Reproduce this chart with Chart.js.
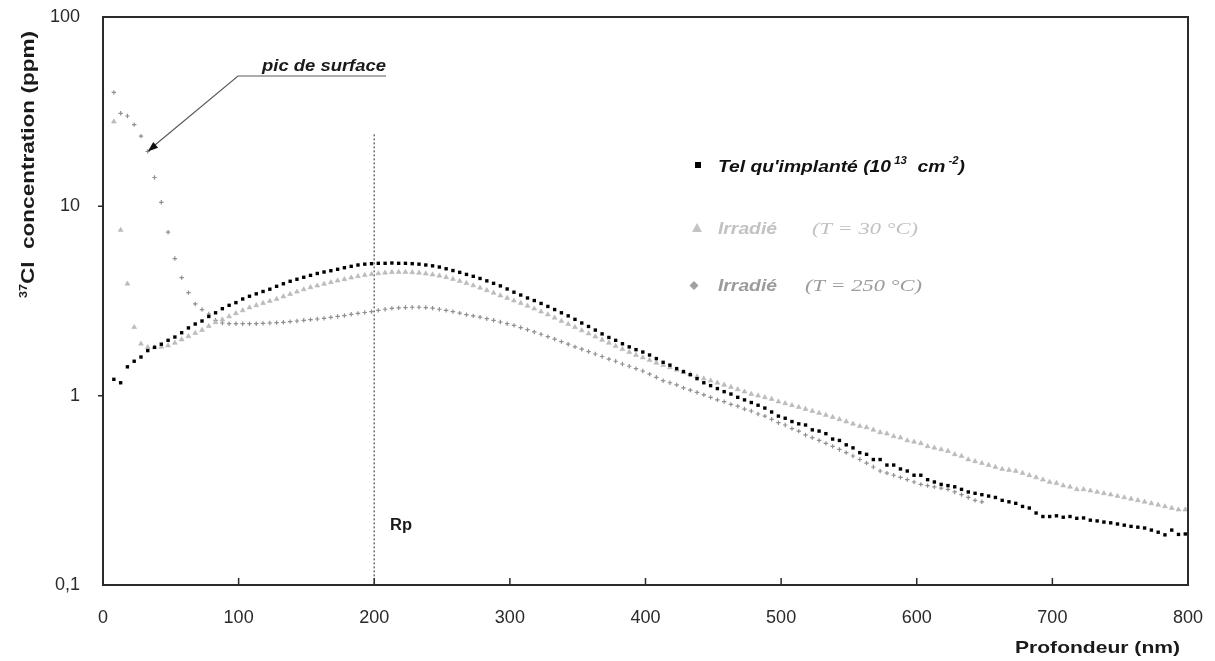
<!DOCTYPE html>
<html>
<head>
<meta charset="utf-8">
<script src="https://cdn.jsdelivr.net/npm/chart.js@4.4.1/dist/chart.umd.min.js"></script>
<style>
  html, body { margin: 0; padding: 0; background: #fff; }
  #wrap { width: 1215px; height: 661px; }
</style>
</head>
<body>
<div id="wrap"><canvas id="chart" width="1215" height="661"></canvas></div>
<script>
// profondeur (nm), one point every ~5 nm
const depth = [
  8, 13, 18, 23, 28, 33, 38, 43, 48, 53, 58, 63, 68, 73, 78, 83, 88, 93, 98, 103,
  108, 113, 118, 123, 128, 133, 138, 143, 148, 153, 158, 163, 168, 173, 178, 183, 188, 193, 198, 203,
  208, 213, 218, 223, 228, 233, 238, 243, 248, 253, 258, 263, 268, 273, 278, 283, 288, 293, 298, 303,
  308, 313, 318, 323, 328, 333, 338, 343, 348, 353, 358, 363, 368, 373, 378, 383, 388, 393, 398, 403,
  408, 413, 418, 423, 428, 433, 438, 443, 448, 453, 458, 463, 468, 473, 478, 483, 488, 493, 498, 503,
  508, 513, 518, 523, 528, 533, 538, 543, 548, 553, 558, 563, 568, 573, 578, 583, 588, 593, 598, 603,
  608, 613, 618, 623, 628, 633, 638, 643, 648, 653, 658, 663, 668, 673, 678, 683, 688, 693, 698, 703,
  708, 713, 718, 723, 728, 733, 738, 743, 748, 753, 758, 763, 768, 773, 778, 783, 788, 793, 798
];

// Tel qu'implanté (ppm)
const telQuImplante = [
  1.22, 1.17, 1.42, 1.52, 1.60, 1.73, 1.80, 1.87, 1.96, 2.04, 2.15, 2.28, 2.39, 2.48, 2.62, 2.74, 2.88, 3.00, 3.10, 3.24,
  3.35, 3.45, 3.55, 3.65, 3.78, 3.90, 4.02, 4.12, 4.22, 4.32, 4.42, 4.50, 4.57, 4.65, 4.74, 4.82, 4.90, 4.95, 4.98, 5.00,
  5.00, 5.02, 5.00, 5.00, 4.98, 4.95, 4.90, 4.85, 4.78, 4.68, 4.58, 4.48, 4.37, 4.27, 4.16, 4.04, 3.92, 3.80, 3.66, 3.52,
  3.40, 3.28, 3.18, 3.07, 2.96, 2.85, 2.74, 2.64, 2.53, 2.42, 2.32, 2.22, 2.12, 2.03, 1.96, 1.88, 1.81, 1.75, 1.70, 1.64,
  1.57, 1.50, 1.45, 1.39, 1.34, 1.29, 1.23, 1.17, 1.13, 1.09, 1.05, 1.02, 0.98, 0.95, 0.92, 0.89, 0.86, 0.82, 0.78, 0.76,
  0.73, 0.71, 0.70, 0.66, 0.65, 0.63, 0.59, 0.58, 0.55, 0.53, 0.50, 0.49, 0.46, 0.46, 0.43, 0.43, 0.41, 0.40, 0.38, 0.38,
  0.36, 0.35, 0.34, 0.335, 0.33, 0.32, 0.31, 0.305, 0.30, 0.295, 0.29, 0.28, 0.275, 0.27, 0.26, 0.255, 0.24, 0.23, 0.23, 0.232,
  0.228, 0.23, 0.225, 0.226, 0.22, 0.218, 0.215, 0.213, 0.21, 0.207, 0.204, 0.202, 0.20, 0.195, 0.19, 0.184, 0.195, 0.185, 0.186
];

// Irradié T = 30 °C (ppm)
const irradie30 = [
  28, 7.5, 3.9, 2.3, 1.88, 1.80, 1.80, 1.81, 1.84, 1.90, 1.98, 2.06, 2.14, 2.22, 2.33, 2.44, 2.52, 2.62, 2.72, 2.82,
  2.92, 3.00, 3.08, 3.16, 3.24, 3.34, 3.44, 3.54, 3.64, 3.73, 3.81, 3.89, 3.97, 4.05, 4.12, 4.20, 4.27, 4.33, 4.38, 4.42,
  4.46, 4.49, 4.50, 4.50, 4.48, 4.45, 4.41, 4.36, 4.30, 4.22, 4.13, 4.03, 3.93, 3.82, 3.71, 3.60, 3.49, 3.38, 3.28, 3.18,
  3.08, 2.98, 2.88, 2.78, 2.68, 2.58, 2.48, 2.39, 2.30, 2.21, 2.13, 2.05, 1.97, 1.90, 1.83, 1.76, 1.70, 1.64, 1.59, 1.54,
  1.49, 1.45, 1.41, 1.37, 1.33, 1.30, 1.26, 1.23, 1.20, 1.17, 1.14, 1.11, 1.08, 1.05, 1.02, 1.00, 0.98, 0.96, 0.93, 0.91,
  0.89, 0.87, 0.85, 0.83, 0.81, 0.79, 0.77, 0.75, 0.73, 0.71, 0.69, 0.68, 0.66, 0.64, 0.63, 0.61, 0.60, 0.58, 0.57, 0.56,
  0.54, 0.53, 0.52, 0.51, 0.49, 0.48, 0.46, 0.45, 0.44, 0.43, 0.42, 0.41, 0.405, 0.40, 0.39, 0.38, 0.37, 0.36, 0.35, 0.345,
  0.335, 0.33, 0.32, 0.32, 0.315, 0.31, 0.305, 0.30, 0.295, 0.29, 0.285, 0.28, 0.275, 0.27, 0.265, 0.26, 0.255, 0.25, 0.25
];

// Irradié T = 250 °C (ppm), no points past ~650 nm
const irradie250 = [
  40, 31, 30, 27, 23.5, 19.5, 14.2, 10.5, 7.3, 5.3, 4.2, 3.5, 3.05, 2.85, 2.70, 2.50, 2.42, 2.40, 2.40, 2.40,
  2.40, 2.40, 2.41, 2.42, 2.43, 2.44, 2.46, 2.48, 2.50, 2.52, 2.54, 2.56, 2.59, 2.62, 2.65, 2.69, 2.72, 2.75, 2.78, 2.82,
  2.86, 2.89, 2.91, 2.92, 2.93, 2.93, 2.92, 2.90, 2.86, 2.82, 2.78, 2.73, 2.68, 2.64, 2.60, 2.55, 2.50, 2.45, 2.40, 2.35,
  2.29, 2.23, 2.17, 2.11, 2.05, 1.99, 1.93, 1.87, 1.81, 1.76, 1.71, 1.66, 1.61, 1.56, 1.52, 1.47, 1.43, 1.39, 1.35, 1.30,
  1.25, 1.20, 1.17, 1.14, 1.10, 1.07, 1.04, 1.01, 0.98, 0.95, 0.93, 0.90, 0.88, 0.85, 0.83, 0.80, 0.78, 0.75, 0.72, 0.70,
  0.67, 0.65, 0.62, 0.60, 0.58, 0.56, 0.54, 0.52, 0.50, 0.48, 0.46, 0.44, 0.42, 0.40, 0.39, 0.38, 0.37, 0.36, 0.35, 0.34,
  0.335, 0.33, 0.325, 0.32, 0.31, 0.30, 0.29, 0.28, 0.275
];

const xTicks = [0, 100, 200, 300, 400, 500, 600, 700, 800];
const yTicks = [0.1, 1, 10, 100];
const rpDepth = 200;

const FONT = "'Liberation Sans', Arial, sans-serif";

function points(values) {
  const out = [];
  values.forEach((v, i) => {
    if (v != null) out.push({ x: depth[i], y: v });
  });
  return out;
}

// draws a text squeezed/stretched to a given width (the scan is a bit anamorphic)
function drawFitted(ctx, text, x, y, width, font, color) {
  ctx.save();
  ctx.font = font;
  ctx.fillStyle = color;
  ctx.textBaseline = "alphabetic";
  const w = ctx.measureText(text).width;
  ctx.translate(x, y);
  ctx.scale(width / w, 1);
  ctx.fillText(text, 0, 0);
  ctx.restore();
}

// several pieces in a row (for superscripts), whole group fitted to a width
function drawPieces(ctx, pieces, x, y, width, color) {
  ctx.save();
  ctx.fillStyle = color;
  ctx.textBaseline = "alphabetic";
  let total = 0;
  pieces.forEach((p) => {
    ctx.font = p.font;
    total += ctx.measureText(p.text).width;
  });
  ctx.translate(x, y);
  ctx.scale(width / total, 1);
  let cx = 0;
  pieces.forEach((p) => {
    ctx.font = p.font;
    ctx.fillText(p.text, cx, p.dy || 0);
    cx += ctx.measureText(p.text).width;
  });
  ctx.restore();
}

const decor = {
  id: "decor",
  beforeDatasetsDraw(chart) {
    const { ctx, chartArea: a, scales } = chart;
    // ligne Rp
    const px = scales.x.getPixelForValue(rpDepth);
    ctx.save();
    ctx.strokeStyle = "#707070";
    ctx.lineWidth = 1.5;
    ctx.setLineDash([2, 2]);
    ctx.beginPath();
    ctx.moveTo(px, scales.y.getPixelForValue(24));
    ctx.lineTo(px, a.bottom);
    ctx.stroke();
    ctx.restore();
  },
  afterDatasetsDraw(chart) {
    const { ctx, chartArea: a, scales } = chart;
    const x = scales.x, y = scales.y;

    // cadre
    ctx.save();
    ctx.strokeStyle = "#2b2b2b";
    ctx.lineWidth = 2;
    ctx.strokeRect(a.left, a.top, a.right - a.left, a.bottom - a.top);

    // petites graduations
    ctx.lineWidth = 1.5;
    ctx.beginPath();
    yTicks.slice(1, -1).forEach((v) => {
      const py = y.getPixelForValue(v);
      ctx.moveTo(a.left - 5, py);
      ctx.lineTo(a.left, py);
    });
    xTicks.slice(1, -1).forEach((v) => {
      const px = x.getPixelForValue(v);
      ctx.moveTo(px, a.bottom);
      ctx.lineTo(px, a.bottom - 7);
    });
    ctx.stroke();
    ctx.restore();

    // flèche "pic de surface"
    ctx.save();
    ctx.strokeStyle = "#5a5a5a";
    ctx.lineWidth = 1.2;
    const tipX = x.getPixelForValue(33), tipY = y.getPixelForValue(19.5);
    ctx.beginPath();
    ctx.moveTo(386, 76);
    ctx.lineTo(238, 76);
    ctx.lineTo(tipX + 3, tipY - 3);
    ctx.stroke();
    const ang = Math.atan2(tipY - 76, tipX - 238);
    ctx.fillStyle = "#111";
    ctx.beginPath();
    ctx.moveTo(tipX, tipY);
    ctx.lineTo(tipX - 11 * Math.cos(ang - 0.35), tipY - 11 * Math.sin(ang - 0.35));
    ctx.lineTo(tipX - 11 * Math.cos(ang + 0.35), tipY - 11 * Math.sin(ang + 0.35));
    ctx.closePath();
    ctx.fill();
    ctx.restore();
    drawFitted(ctx, "pic de surface", 262, 71, 124, "italic bold 16px " + FONT, "#1a1a1a");

    // Rp
    drawFitted(ctx, "Rp", 390, 530, 22, "bold 16px " + FONT, "#1a1a1a");

    // légende
    ctx.save();
    ctx.fillStyle = "#000";
    ctx.fillRect(695, 162, 6, 6);
    ctx.fillStyle = "#c4c4c4";
    ctx.beginPath();
    ctx.moveTo(697, 223);
    ctx.lineTo(702, 232);
    ctx.lineTo(692, 232);
    ctx.closePath();
    ctx.fill();
    ctx.fillStyle = "#a0a0a0";
    ctx.beginPath();
    ctx.moveTo(694, 281);
    ctx.lineTo(698.5, 285.5);
    ctx.lineTo(694, 290);
    ctx.lineTo(689.5, 285.5);
    ctx.closePath();
    ctx.fill();
    ctx.restore();

    const bi = "italic bold 17px " + FONT;
    const sup = "italic bold 10px " + FONT;
    drawPieces(ctx, [
      { text: "Tel qu'implanté (10", font: bi },
      { text: " 13", font: sup, dy: -8 },
      { text: "  cm", font: bi },
      { text: " -2", font: sup, dy: -8 },
      { text: ")", font: bi }
    ], 718, 172, 247, "#111");

    drawFitted(ctx, "Irradié", 718, 234, 59, bi, "#c2c2c2");
    drawFitted(ctx, "(T = 30 °C)", 812, 234, 106, "italic 17px 'Liberation Serif', serif", "#c2c2c2");
    drawFitted(ctx, "Irradié", 718, 291, 59, bi, "#9c9c9c");
    drawFitted(ctx, "(T = 250 °C)", 805, 291, 117, "italic 17px 'Liberation Serif', serif", "#9c9c9c");

    // titres des axes
    drawFitted(ctx, "Profondeur (nm)", 1015, 653, 165, "bold 17px " + FONT, "#1a1a1a");
    ctx.save();
    ctx.translate(34, 298);
    ctx.rotate(-Math.PI / 2);
    drawPieces(ctx, [
      { text: "37", font: "bold 10px " + FONT, dy: -7 },
      { text: "Cl  concentration (ppm)", font: "bold 18px " + FONT }
    ], 0, 0, 267, "#1a1a1a");
    ctx.restore();
  }
};

new Chart(document.getElementById("chart"), {
  type: "scatter",
  data: {
    datasets: [
      {
        label: "Tel qu'implanté",
        data: points(telQuImplante),
        pointStyle: "rect",
        pointRadius: 2.4,
        backgroundColor: "#000",
        borderColor: "#000",
        borderWidth: 0,
        order: 1
      },
      {
        label: "Irradié (T = 30 °C)",
        data: points(irradie30),
        pointStyle: "triangle",
        pointRadius: 2.8,
        backgroundColor: "#bdbdbd",
        borderColor: "#b0b0b0",
        borderWidth: 0.5,
        order: 2
      },
      {
        label: "Irradié (T = 250 °C)",
        data: points(irradie250),
        pointStyle: "cross",
        pointRadius: 2.2,
        backgroundColor: "#8f8f8f",
        borderColor: "#8f8f8f",
        borderWidth: 1.2,
        order: 3
      }
    ]
  },
  options: {
    responsive: false,
    animation: false,
    events: [],
    layout: { autoPadding: false, padding: { top: 17, right: 27, left: 0, bottom: 0 } },
    plugins: {
      legend: { display: false },
      tooltip: { enabled: false }
    },
    scales: {
      x: {
        type: "linear",
        min: 0,
        max: 800,
        grid: { display: false },
        border: { display: false },
        afterBuildTicks: (s) => { s.ticks = xTicks.map((v) => ({ value: v })); },
        afterFit: (s) => {
          s.height = 76;
          s.paddingLeft = 0;
          s.paddingRight = 0;
        },
        ticks: {
          padding: 14,
          maxRotation: 0,
          color: "#2a2a2a",
          font: { family: FONT, size: 18 }
        }
      },
      y: {
        type: "logarithmic",
        min: 0.1,
        max: 100,
        grid: { display: false },
        border: { display: false },
        afterBuildTicks: (s) => { s.ticks = yTicks.map((v) => ({ value: v })); },
        afterFit: (s) => {
          s.width = 103;
          s.paddingTop = 0;
          s.paddingBottom = 0;
        },
        ticks: {
          padding: 15,
          color: "#2a2a2a",
          font: { family: FONT, size: 18 },
          callback: (v) => String(v).replace(".", ",")
        }
      }
    }
  },
  plugins: [decor]
});
</script>
</body>
</html>
